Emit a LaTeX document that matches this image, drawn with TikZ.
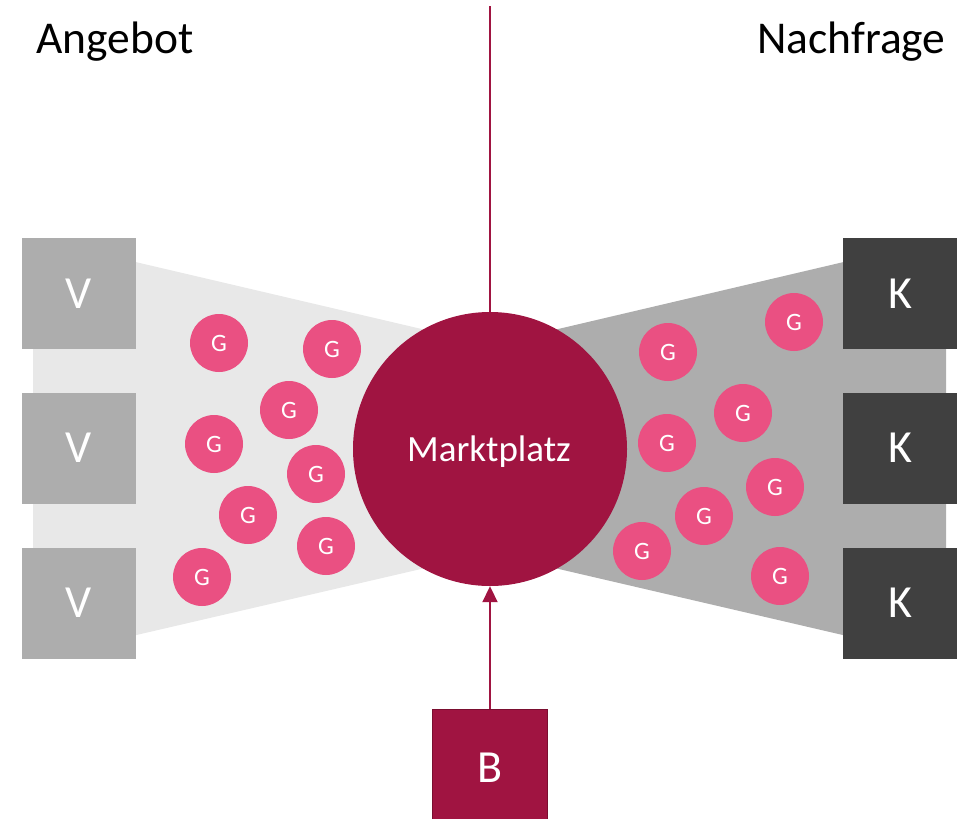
\documentclass[tikz,border=0pt]{standalone}
\usepackage{fontspec}
\setmainfont{Carlito}
\usetikzlibrary{arrows.meta}
\definecolor{crimson}{HTML}{A01441}
\definecolor{crimsondark}{HTML}{7A0E30}
\definecolor{gpink}{HTML}{EA5082}
\definecolor{lgrey}{HTML}{E8E8E8}
\definecolor{mgrey}{HTML}{ADADAD}
\definecolor{dgrey}{HTML}{404040}
\tikzset{
  vbox/.style={rectangle, fill=mgrey, text=white, minimum width=114pt, minimum height=111pt, inner sep=0pt, font=\fontsize{46}{52}\selectfont},
  kbox/.style={vbox, fill=dgrey},
  gdot/.style={circle, fill=gpink, text=white, minimum size=58pt, inner sep=0pt, font=\fontsize{25}{30}\selectfont},
  title/.style={anchor=base west, inner sep=0pt, font=\fontsize{45.5}{52}\selectfont, text=black},
}
\begin{document}
\begin{tikzpicture}[x=1pt,y=-1pt]
\useasboundingbox (0,0) rectangle (961,819);
% bands
\fill[lgrey] (33,238) -- (490,345) -- (490,553) -- (33,659) -- cycle;
\fill[mgrey] (946,238) -- (490,345) -- (490,553) -- (946,659) -- cycle;
% boxes
\node[vbox] (v1) at (79,293.5) {V};
\node[vbox] (v2) at (79,448) {V};
\node[vbox] (v3) at (79,603) {V};
\node[kbox] (k1) at (900,293.5) {K};
\node[kbox] (k2) at (900,448) {K};
\node[kbox] (k3) at (900,603) {K};
% goods
\node[gdot] (gl1) at (219,343) {G};
\node[gdot] (gl2) at (332,349) {G};
\node[gdot] (gl3) at (289,410) {G};
\node[gdot] (gl4) at (214,444) {G};
\node[gdot] (gl5) at (316,474) {G};
\node[gdot] (gl6) at (248,515) {G};
\node[gdot] (gl7) at (326,546) {G};
\node[gdot] (gl8) at (202,577) {G};
\node[gdot] (gr1) at (794,322) {G};
\node[gdot] (gr2) at (668,352) {G};
\node[gdot] (gr3) at (743,413) {G};
\node[gdot] (gr4) at (667,443) {G};
\node[gdot] (gr5) at (775,487) {G};
\node[gdot] (gr6) at (704,516) {G};
\node[gdot] (gr7) at (642,551) {G};
\node[gdot] (gr8) at (780,576) {G};
% marketplace
\node[circle, fill=crimson, minimum size=274pt, inner sep=0pt] (mp) at (490,449) {};
\node[text=white, inner sep=0pt, font=\fontsize{37}{42}\selectfont] (mplabel) at (489,452) {Marktplatz};
% top line
\coordinate (top) at (490,6);
\draw[crimson, line width=1.6pt] (top) -- (mp.north);
% B box
\node[rectangle, fill=crimson, draw=crimsondark, line width=1.5pt, minimum width=115pt, minimum height=118pt, inner sep=0pt, anchor=north] (b) at (490,708.5) {};
\node[text=white, inner sep=0pt, font=\fontsize{46}{52}\selectfont] (blabel) at (490,768) {B};
\draw[crimson, line width=2pt, -{Triangle[length=16pt,width=15pt]}] (b.north) -- (mp.south);
% titles
\node[title] (angebot) at (36,53) {Angebot};
\node[title] (nachfrage) at (757,53) {Nachfrage};
\end{tikzpicture}
\end{document}
